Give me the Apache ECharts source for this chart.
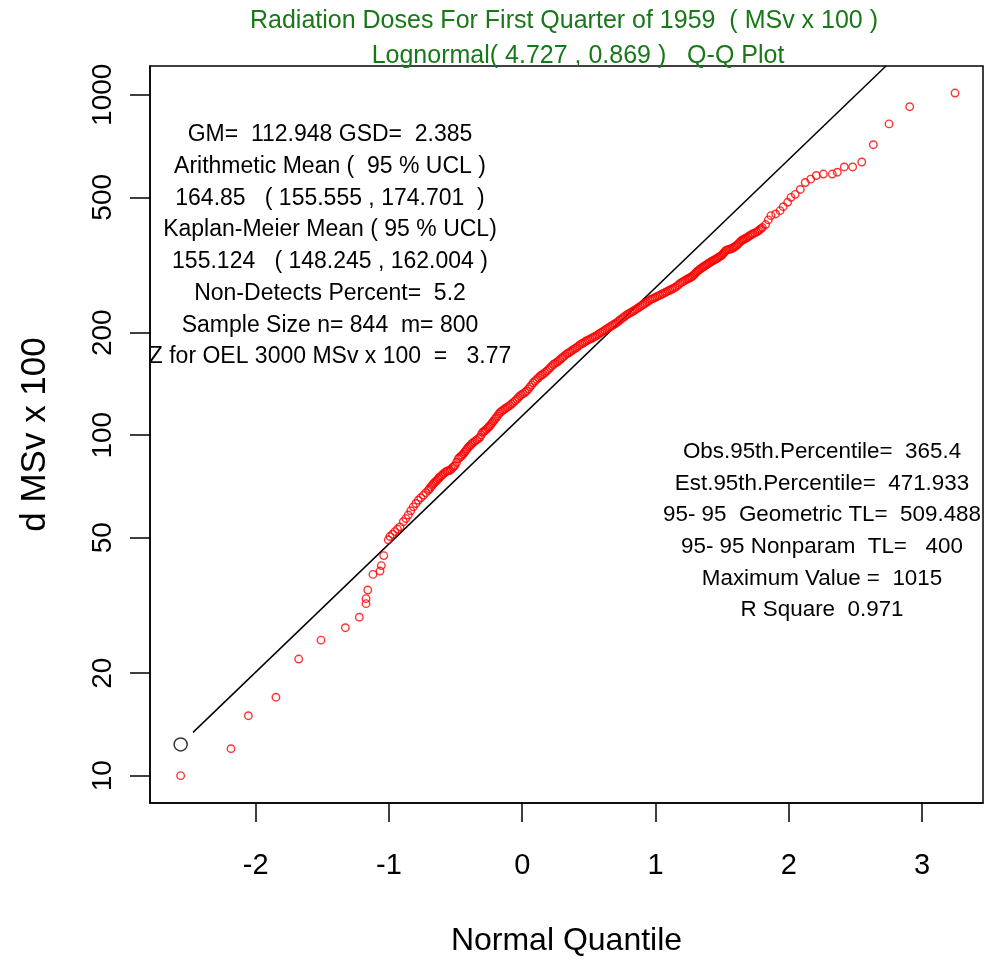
<!DOCTYPE html>
<html>
<head>
<meta charset="utf-8">
<script src="https://cdn.jsdelivr.net/npm/echarts@6/dist/echarts.min.js"></script>
<style>
html,body{margin:0;padding:0;background:#fff;}
#chart{width:984px;height:962px;}
</style>
</head>
<body>
<div id="chart"></div>
<script>
var normalQuantiles = [
  -2.563,-2.185,-2.055,-1.848,-1.677,-1.510,-1.327,-1.222,-1.172,-1.172,-1.159,-1.120,-1.067,-1.057,-1.039,-1.005,
  -0.992,-0.973,-0.955,-0.936,-0.917,-0.892,-0.873,-0.855,-0.836,-0.817,-0.798,-0.780,-0.761,-0.742,-0.723,-0.705,
  -0.686,-0.667,-0.648,-0.630,-0.611,-0.592,-0.567,-0.542,-0.523,-0.504,-0.480,-0.461,-0.442,-0.423,-0.404,-0.386,
  -0.367,-0.341,-0.317,-0.298,-0.279,-0.260,-0.242,-0.223,-0.204,-0.185,-0.167,-0.142,-0.116,-0.092,-0.067,-0.041,
  -0.017,0.008,0.034,0.059,0.083,0.109,0.134,0.158,0.184,0.209,0.233,0.259,0.284,0.308,0.334,0.359,
  0.383,0.409,0.434,0.459,0.484,0.509,0.534,0.559,0.584,0.609,0.634,0.659,0.684,0.709,0.734,0.759,
  0.784,0.809,0.834,0.859,0.884,0.909,0.934,0.959,0.984,1.009,1.034,1.059,1.084,1.109,1.134,1.159,
  1.184,1.209,1.234,1.253,1.272,1.291,1.309,1.328,1.347,1.366,1.385,1.403,1.422,1.441,1.460,1.478,
  1.497,1.513,1.529,1.550,1.572,1.591,1.610,1.628,1.647,1.666,1.685,1.707,1.730,1.760,1.781,1.802,
  1.827,1.847,1.867,1.902,1.935,1.959,1.992,2.017,2.049,2.087,2.124,2.165,2.207,2.260,2.327,2.365,
  2.417,2.480,2.548,2.635,2.753,2.908,3.248
];
var doses = [
  10.0,12.0,15.0,17.0,22.0,25.0,27.2,29.2,32.0,33.1,35.1,39.0,39.9,41.4,44.3,49.3,
  50.4,51.2,52.1,53.0,53.8,55.7,56.9,58.3,60.0,61.6,63.0,64.4,65.5,66.6,67.8,68.9,
  70.4,72.0,73.2,74.5,75.7,77.0,78.4,78.8,80.3,81.5,85.2,86.6,88.1,90.1,92.2,93.7,
  95.3,96.9,98.6,101.9,103.1,104.9,106.6,109.0,111.5,114.0,116.6,118.6,120.6,122.4,124.7,127.5,
  130.5,132.5,134.9,138.7,142.6,145.8,149.2,151.3,154.3,157.7,161.3,163.7,166.8,169.8,173.3,175.6,
  178.4,181.0,184.5,186.8,189.5,191.6,193.9,196.2,199.5,202.2,205.3,208.2,211.0,214.1,218.2,221.9,
  225.7,228.7,231.7,234.9,238.7,242.1,245.7,249.9,252.4,255.3,258.0,261.0,264.0,266.9,269.9,273.6,
  279.1,282.9,286.8,289.3,292.1,296.6,302.0,306.1,310.2,313.6,317.1,320.8,324.3,327.3,330.2,334.0,
  337.6,343.3,349.1,351.3,353.1,357.2,361.1,367.2,373.4,376.9,380.2,385.4,390.6,395.1,401.2,407.4,
  415.7,429.0,441.6,446.7,456.7,469.1,483.2,499.7,509.9,527.2,552.6,565.1,579.3,585.0,585.0,592.3,
  613.8,613.8,634.7,713.4,821.4,922.7,1012
];
// Further observations read inside the dense (overplotted) part of the band
var bandQuantiles = [
  -0.696,-0.677,-0.658,-0.639,-0.621,-0.602,-0.580,-0.555,-0.533,-0.514,-0.492,-0.471,-0.452,-0.433,-0.414,-0.395,
  -0.377,-0.354,-0.329,-0.308,-0.289,-0.270,-0.251,-0.233,-0.214,-0.195,-0.176,-0.155,-0.129,-0.104,-0.080,-0.054,
  -0.029,-0.005,0.021,0.047,0.071,0.096,0.122,0.146,0.171,0.197,0.221,0.246,0.272,0.296,0.321,0.347,
  0.371,0.396,0.422,0.447,0.472,0.497,0.522,0.547,0.572,0.597,0.622,0.647,0.672,0.697,0.722,0.747,
  0.772,0.797,0.822,0.847,0.872,0.897,0.922,0.947,0.972,0.997,1.022,1.047,1.072,1.097,1.122,1.147,
  1.172,1.197,1.222,1.244,1.263,1.282,1.300,1.319,1.338,1.357,1.376,1.394,1.413,1.432,1.451,1.469,
  1.488,1.505,1.521,1.540,1.561,1.582,1.601,1.619,1.638,1.657,1.676,1.696,1.719,1.745,1.771,1.792
];
var bandDoses = [
  69.6,71.2,72.6,73.8,75.1,76.3,77.7,78.6,79.5,80.9,83.3,85.9,87.3,89.1,91.1,92.9,
  94.5,96.1,97.7,100.2,102.5,104.0,105.7,107.8,110.2,112.7,115.3,117.6,119.6,121.5,123.5,126.1,
  129.0,131.5,133.7,136.8,140.6,144.2,147.5,150.2,152.8,156.0,159.5,162.5,165.2,168.3,171.5,174.4,
  177.0,179.7,182.7,185.6,188.1,190.5,192.7,195.0,197.8,200.8,203.7,206.7,209.6,212.5,216.1,220.0,
  223.8,227.2,230.2,233.3,236.8,240.4,243.9,247.8,251.1,253.8,256.6,259.5,262.5,265.4,268.4,271.7,
  276.3,281.0,284.8,288.0,290.7,294.3,299.3,304.0,308.1,311.9,315.3,318.9,322.5,325.8,328.7,332.1,
  335.8,340.4,346.2,350.2,352.2,355.1,359.1,364.1,370.3,375.1,378.5,382.8,388.0,392.8,398.1,404.3
];
// Non-detect marker (black open circle)
var nonDetectQuantile = [-2.563];
var nonDetectDose = [12.35];
// Fitted Lognormal(4.727, 0.869) reference line end points
var refLineQuantile = [-2.47, 2.73];
var refLineDose = [13.4, 1215];
// Axis ticks
var xTicks = [-2, -1, 0, 1, 2, 3];
var yTicks = [10, 20, 50, 100, 200, 500, 1000];

var titleLines = [
  'Radiation Doses For First Quarter of 1959  ( MSv x 100 )',
  'Lognormal( 4.727 , 0.869 )   Q-Q Plot'
];
var leftStats = [
  'GM=  112.948 GSD=  2.385',
  'Arithmetic Mean (  95 % UCL )',
  '164.85   ( 155.555 , 174.701  )',
  'Kaplan-Meier Mean ( 95 % UCL)',
  '155.124   ( 148.245 , 162.004 )',
  'Non-Detects Percent=  5.2',
  'Sample Size n= 844  m= 800',
  'Z for OEL 3000 MSv x 100  =   3.77'
];
var rightStats = [
  'Obs.95th.Percentile=  365.4',
  'Est.95th.Percentile=  471.933',
  '95- 95  Geometric TL=  509.488',
  '95- 95 Nonparam  TL=   400',
  'Maximum Value =  1015',
  'R Square  0.971'
];

function zip(a, b) { return a.map(function (v, i) { return [v, b[i]]; }); }

var FONT = '"Liberation Sans", Arial, sans-serif';
var chart = echarts.init(document.getElementById('chart'), null, {renderer: 'canvas'});
chart.setOption({
  animation: false,
  backgroundColor: '#ffffff',
  grid: {left: 150, right: 1, top: 66, bottom: 154, show: true, borderColor: '#000', borderWidth: 1.5, backgroundColor: 'transparent'},
  xAxis: {
    type: 'value', min: -2.793, max: 3.458,
    name: 'Normal Quantile', nameLocation: 'middle', nameGap: 122,
    nameTextStyle: {fontFamily: FONT, fontSize: 32, color: '#000'},
    axisLine: {show: true, onZero: false, lineStyle: {color: '#000', width: 1.5}},
    axisTick: {show: true, length: 19, lineStyle: {color: '#000', width: 1.5}, customValues: xTicks},
    axisLabel: {fontFamily: FONT, fontSize: 29, color: '#000', margin: 48, customValues: xTicks},
    splitLine: {show: false}
  },
  yAxis: {
    type: 'log', logBase: 10, min: 8.31, max: 1215,
    name: 'd MSv x 100', nameLocation: 'middle', nameGap: 97,
    nameTextStyle: {fontFamily: FONT, fontSize: 35, color: '#000'},
    axisLine: {show: true, onZero: false, lineStyle: {color: '#000', width: 1.5}},
    axisTick: {show: true, length: 20, lineStyle: {color: '#000', width: 1.5}, customValues: yTicks},
    axisLabel: {fontFamily: FONT, fontSize: 28, color: '#000', rotate: 90, margin: 33, customValues: yTicks,
      formatter: function (v) { return String(Math.round(v)); }},
    splitLine: {show: false}
  },
  graphic: [
    {type: 'text', x: 564, y: 21, style: {text: titleLines[0], font: '25px ' + FONT, fill: '#187818', textAlign: 'center', textVerticalAlign: 'middle'}},
    {type: 'text', x: 578, y: 56, style: {text: titleLines[1], font: '25px ' + FONT, fill: '#187818', textAlign: 'center', textVerticalAlign: 'middle'}},
    {type: 'text', x: 330, y: 119.2, style: {text: leftStats.join('\n'), font: '23px ' + FONT, lineHeight: 31.7, fill: '#000', textAlign: 'center', textVerticalAlign: 'top'}},
    {type: 'text', x: 822, y: 436.2, style: {text: rightStats.join('\n'), font: '22.4px ' + FONT, lineHeight: 31.6, fill: '#000', textAlign: 'center', textVerticalAlign: 'top'}}
  ],
  series: [
    {
      type: 'line', data: zip(refLineQuantile, refLineDose), symbol: 'none', silent: true,
      lineStyle: {color: '#000', width: 1.5}, z: 3
    },
    {
      type: 'scatter', data: zip(normalQuantiles.concat(bandQuantiles), doses.concat(bandDoses)),
      symbol: 'circle', symbolSize: 7.5,
      itemStyle: {color: 'rgba(0,0,0,0)', borderColor: '#ff0000', borderWidth: 1.4}, z: 4
    },
    {
      type: 'scatter', data: zip(nonDetectQuantile, nonDetectDose), symbol: 'circle', symbolSize: 13,
      itemStyle: {color: 'rgba(0,0,0,0)', borderColor: '#000', borderWidth: 1.5}, z: 4
    }
  ]
});
</script>
</body>
</html>
